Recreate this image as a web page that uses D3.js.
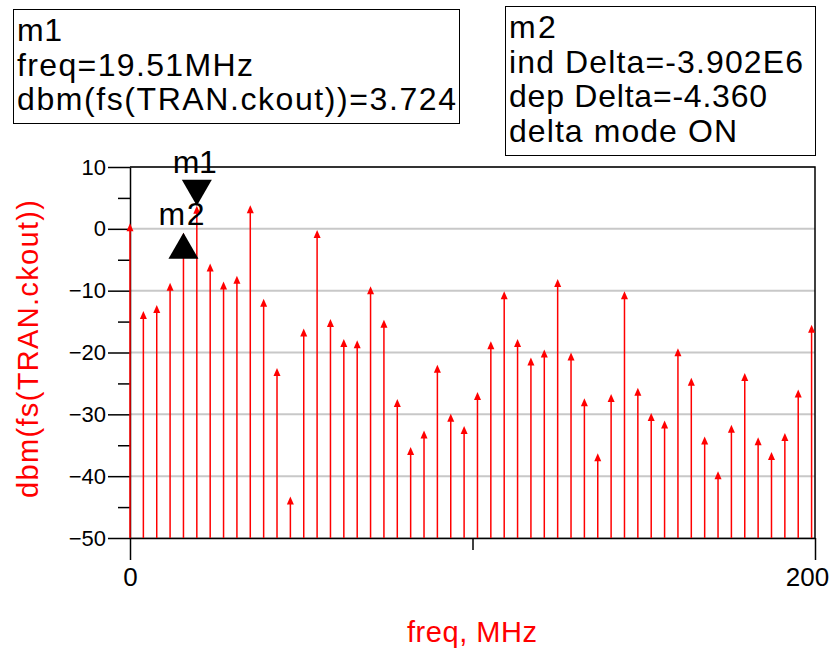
<!DOCTYPE html>
<html>
<head>
<meta charset="utf-8">
<script src="https://cdn.jsdelivr.net/npm/d3@7"></script>
<style>
  html, body { margin: 0; padding: 0; background: #fff; }
  svg { display: block; font-family: "Liberation Sans", Arial, sans-serif; }
</style>
</head>
<body>
<svg id="chart" width="839" height="652"></svg>
<script>
// Spectrum of TRAN.ckout: harmonic frequencies (MHz) and power (dBm)
const freqMHz = [
  0, 3.902, 7.804, 11.706, 15.608, 19.510, 23.412, 27.314, 31.216, 35.118,
  39.020, 42.922, 46.824, 50.726, 54.628, 58.530, 62.432, 66.334, 70.236, 74.138,
  78.040, 81.942, 85.844, 89.746, 93.648, 97.550, 101.452, 105.354, 109.256, 113.158,
  117.060, 120.962, 124.864, 128.766, 132.668, 136.570, 140.472, 144.374, 148.276, 152.178,
  156.080, 159.982, 163.884, 167.786, 171.688, 175.590, 179.492, 183.394, 187.296, 191.198,
  195.100, 199.002
];
const dbmValues = [
  0.9, -13.3, -12.3, -8.7, -0.636, 3.724, -5.6, -8.5, -7.6, 3.8,
  -11.3, -22.5, -43.3, -16.1, -0.2, -14.6, -17.8, -18.0, -9.3, -14.7,
  -27.5, -35.3, -32.6, -22.0, -29.9, -31.9, -26.4, -18.2, -10.1, -17.8,
  -20.8, -19.5, -8.1, -20.0, -27.4, -36.3, -26.7, -10.1, -25.7, -29.8,
  -31.0, -19.3, -24.1, -33.6, -39.2, -31.7, -23.3, -33.7, -36.1, -33.0,
  -26.0, -15.5
];

// Axis ticks
const yMajorTicks = [10, 0, -10, -20, -30, -40, -50];
const yMinorTicks = [5, -5, -15, -25, -35, -45];
const xTicks = [0, 100, 200];
const xTickLabels = ["0", "", "200"];

// Markers: m1 on a harmonic, m2 in delta mode relative to m1
const markerNames = ["m1", "m2"];
const markerIndex = [5, 4];

const svg = d3.select("#chart");
const x = d3.scaleLinear().domain([0, 200]).range([130, 815]);
const y = d3.scaleLinear().domain([-50, 10]).range([538, 167]);

// Horizontal grid
svg.append("g")
  .selectAll("line")
  .data(yMajorTicks)
  .join("line")
  .attr("x1", x(0)).attr("x2", x(200))
  .attr("y1", d => y(d)).attr("y2", d => y(d))
  .attr("stroke", "#c8c8c8").attr("stroke-width", 2);

// Frame: top and right edges
svg.append("path")
  .attr("d", `M${x(0)},${y(10)}H${x(200)}V${y(-50)}`)
  .attr("fill", "none").attr("stroke", "#000").attr("stroke-width", 1.5);

// Left axis with major and minor ticks
const yAxis = svg.append("g")
  .attr("transform", `translate(${x(0)},0)`)
  .call(d3.axisLeft(y).tickValues(yMajorTicks).tickSize(22).tickPadding(2).tickSizeOuter(0));
yAxis.select(".domain").attr("stroke", "#000").attr("stroke-width", 1.5);
yAxis.selectAll(".tick line").attr("stroke", "#000").attr("stroke-width", 1.5);
yAxis.selectAll(".tick text").attr("font-size", 22).attr("fill", "#000")
  .attr("font-family", "Liberation Sans, Arial, sans-serif");

svg.append("g")
  .attr("transform", `translate(${x(0)},0)`)
  .call(d3.axisLeft(y).tickValues(yMinorTicks).tickSize(12).tickFormat(""))
  .call(g => g.select(".domain").remove())
  .call(g => g.selectAll(".tick line").attr("stroke", "#000").attr("stroke-width", 1.5));

// Bottom axis: long ticks at the ends, short one in the middle
const xAxis = svg.append("g")
  .attr("transform", `translate(0,${y(-50)})`)
  .call(d3.axisBottom(x).tickValues(xTicks).tickSizeOuter(0)
    .tickFormat((d, i) => xTickLabels[i]));
xAxis.select(".domain").attr("stroke", "#000").attr("stroke-width", 1.5);
xAxis.selectAll(".tick line")
  .attr("y2", d => (d === 100 ? 12 : 22))
  .attr("stroke", "#000").attr("stroke-width", 1.5);
xAxis.selectAll(".tick text")
  .attr("font-size", 26).attr("fill", "#000")
  .attr("font-family", "Liberation Sans, Arial, sans-serif")
  .attr("y", 48).attr("dy", 0)
  .attr("dx", d => (d === 200 ? -8 : 0));

// Spectral lines with arrow heads
const lines = svg.append("g");
lines.selectAll("line")
  .data(dbmValues)
  .join("line")
  .attr("x1", (d, i) => x(freqMHz[i])).attr("x2", (d, i) => x(freqMHz[i]))
  .attr("y1", y(-50)).attr("y2", d => y(d) + 4)
  .attr("stroke", "#ff0000").attr("stroke-width", 1.5);
lines.selectAll("path")
  .data(dbmValues)
  .join("path")
  .attr("d", (d, i) => {
    const cx = x(freqMHz[i]), cy = y(d);
    return `M${cx},${cy}L${cx + 3.5},${cy + 8}L${cx - 3.5},${cy + 8}Z`;
  })
  .attr("fill", "#ff0000");

// Marker symbols
const mk = svg.append("g");
markerIndex.forEach((idx, k) => {
  const cx = x(freqMHz[idx]), cy = y(dbmValues[idx]);
  if (k === 0) {
    mk.append("path").attr("d", `M${cx},${cy}L${cx + 15},${cy - 26}L${cx - 15},${cy - 26}Z`).attr("fill", "#000");
    mk.append("text").attr("x", cx - 2).attr("y", cy - 33).attr("text-anchor", "middle")
      .attr("font-size", 32).attr("textLength", 44).attr("lengthAdjust", "spacing")
      .text(markerNames[k]);
  } else {
    mk.append("path").attr("d", `M${cx},${cy}L${cx + 15},${cy + 26}L${cx - 15},${cy + 26}Z`).attr("fill", "#000");
    mk.append("text").attr("x", cx - 2).attr("y", cy - 8).attr("text-anchor", "middle")
      .attr("font-size", 32).attr("textLength", 46).attr("lengthAdjust", "spacing")
      .text(markerNames[k]);
  }
});

// Marker readout boxes
const i1 = markerIndex[0], i2 = markerIndex[1];
const m1Lines = [
  markerNames[0],
  `freq=${freqMHz[i1].toFixed(2)}MHz`,
  `dbm(fs(TRAN.ckout))=${dbmValues[i1].toFixed(3)}`
];
const m2Lines = [
  markerNames[1],
  `ind Delta=${(freqMHz[i2] - freqMHz[i1]).toFixed(3)}E6`,
  `dep Delta=${(dbmValues[i2] - dbmValues[i1]).toFixed(3)}`,
  "delta mode ON"
];
const m1Widths = [45, 236, 439];
const m2Widths = [46.7, 294, 258, 228];

function readout(x0, y0, w, h, textLines, widths) {
  const g = svg.append("g");
  g.append("rect").attr("x", x0 + 0.5).attr("y", y0 + 0.5).attr("width", w).attr("height", h)
    .attr("fill", "#fff").attr("stroke", "#000").attr("stroke-width", 1);
  g.selectAll("text")
    .data(textLines)
    .join("text")
    .attr("x", x0 + 4).attr("y", (d, i) => y0 + 32 + i * 34.5)
    .attr("font-size", 32).attr("fill", "#000")
    .attr("textLength", (d, i) => widths[i]).attr("lengthAdjust", "spacing")
    .text(d => d);
}
readout(13, 9, 446, 114, m1Lines, m1Widths);
readout(505, 6, 310, 149, m2Lines, m2Widths);

// Axis titles
svg.append("text")
  .attr("transform", `translate(38,349) rotate(-90)`)
  .attr("text-anchor", "middle").attr("font-size", 29).attr("fill", "#ff0000")
  .attr("textLength", 298).attr("lengthAdjust", "spacing")
  .text("dbm(fs(TRAN.ckout))");
svg.append("text")
  .attr("x", 472).attr("y", 642)
  .attr("text-anchor", "middle").attr("font-size", 29).attr("fill", "#ff0000")
  .attr("textLength", 130).attr("lengthAdjust", "spacing")
  .text("freq, MHz");
</script>
</body>
</html>
